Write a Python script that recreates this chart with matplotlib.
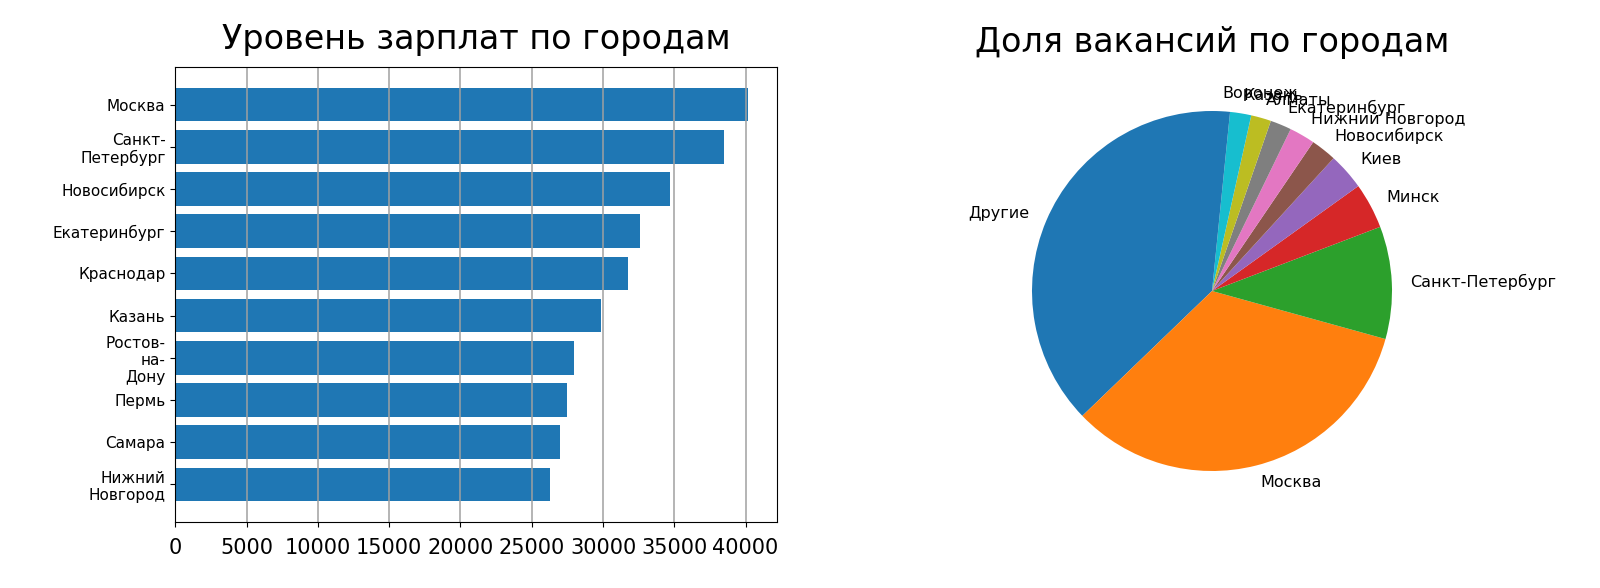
import matplotlib
matplotlib.use("Agg")
import matplotlib.pyplot as plt

plt.rcParams['font.family'] = ['DejaVu Sans']

# ---- data: salary by city ----
salary_cities = ['Москва', 'Санкт-Петербург', 'Новосибирск', 'Екатеринбург', 'Краснодар',
                 'Казань', 'Ростов-на-Дону', 'Пермь', 'Самара', 'Нижний Новгород']
salary_values = [40160, 38480, 34730, 32600, 31770, 29850, 27990, 27450, 27010, 26310]

# ---- data: vacancy share by city ----
share_cities = ['Другие', 'Москва', 'Санкт-Петербург', 'Минск', 'Киев', 'Новосибирск',
                'Нижний Новгород', 'Екатеринбург', 'Алматы', 'Казань', 'Воронеж']
share_values = [37.2, 33.5, 10.1, 4.1, 3.3, 2.3, 2.3, 1.9, 1.8, 1.9, 1.6]

salary_ticklabels = [c.replace(' ', '\n').replace('-', '-\n') for c in salary_cities]

W, H = 1600, 588
fig = plt.figure(figsize=(W / 100, H / 100), dpi=100)

# ---- bar chart ----
ax1 = fig.add_axes([175.3 / W, (H - 522) / H, 601.2 / W, 455 / H])
ypos = list(range(len(salary_cities)))
ax1.barh(ypos, salary_values, height=0.8, color='#1f77b4')
ax1.set_yticks(ypos)
ax1.set_yticklabels(salary_ticklabels, fontsize=11)
ax1.invert_yaxis()
ax1.grid(axis='x', color='#a0a0a0', linewidth=1.1)
ax1.tick_params(axis='x', labelsize=15, pad=8)
ax1.set_title('Уровень зарплат по городам', fontsize=24, pad=13)

# ---- pie chart ----
r = 180
cx, cy = 1212, 291
side = 2.5 * r
ax2 = fig.add_axes([(cx - side / 2) / W, (H - cy - side / 2) / H, side / W, side / H])
ax2.pie(share_values, labels=share_cities, startangle=90, textprops={'fontsize': 11.5})
ax2.set_title('Доля вакансий по городам', fontsize=24, pad=10)

fig.savefig('out.png', dpi=100)
